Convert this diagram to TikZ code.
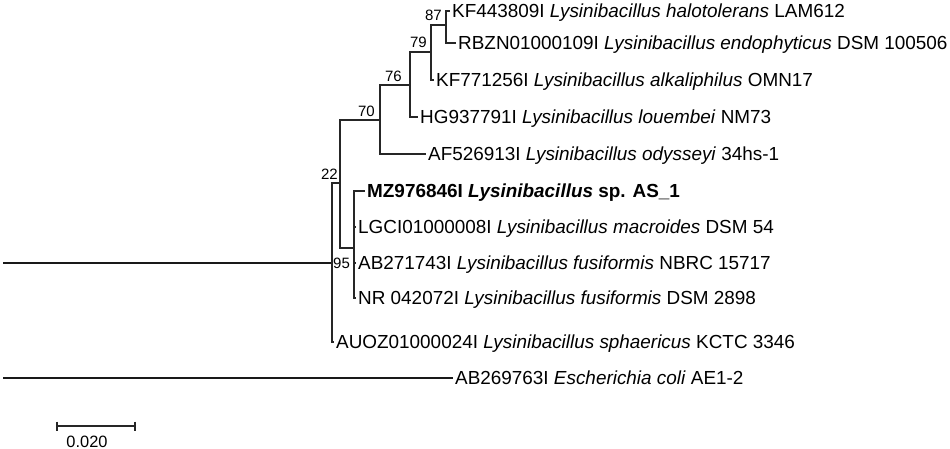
\documentclass[tikz,border=0pt]{standalone}
\usepackage{fontspec}
\setmainfont{Liberation Sans}
\begin{document}
\begin{tikzpicture}[x=1pt,y=-1pt,
  br/.style={draw=black!85,line width=1.2pt},
  rootbr/.style={draw=black!90,line width=1.7pt},
  leaf/.style={anchor=west,inner xsep=2pt,inner ysep=0pt,text height=15pt,text depth=1.4pt,
    font=\fontsize{18.9}{22}\selectfont},
  boot/.style={inner sep=0pt,font=\fontsize{15}{18}\selectfont}]
\useasboundingbox (0,0) rectangle (950,449);
% internal nodes
\coordinate (rin) at (3,263);
\coordinate (rout) at (3,378);
\coordinate (A) at (332,263);
\coordinate (B) at (340,183);
\coordinate (C) at (380,120);
\coordinate (E) at (410,85);
\coordinate (F) at (431,52);
\coordinate (G) at (446,25);
\coordinate (D) at (354,248);
% leaves
\node[leaf] (l1) at (450,11) {KF443809I \textit{Lysinibacillus halotolerans} LAM612};
\node[leaf] (l2) at (456,43) {RBZN01000109I \textit{Lysinibacillus endophyticus} DSM 100506};
\node[leaf] (l3) at (434,80) {KF771256I \textit{Lysinibacillus alkaliphilus} OMN17};
\node[leaf] (l4) at (418,117) {HG937791I \textit{Lysinibacillus louembei} NM73};
\node[leaf] (l5) at (426,154) {AF526913I \textit{Lysinibacillus odysseyi} 34hs-1};
\node[leaf] (l6) at (365,191) {\textbf{MZ976846I \textit{Lysinibacillus} sp. AS\_1}};
\node[leaf] (l7) at (356,227) {LGCI01000008I \textit{Lysinibacillus macroides} DSM 54};
\node[leaf] (l8) at (356,263) {AB271743I \textit{Lysinibacillus fusiformis} NBRC 15717};
\node[leaf] (l9) at (356,298) {NR 042072I \textit{Lysinibacillus fusiformis} DSM 2898};
\node[leaf] (l10) at (334,342) {AUOZ01000024I \textit{Lysinibacillus sphaericus} KCTC 3346};
\node[leaf] (l11) at (453,378) {AB269763I \textit{Escherichia coli} AE1-2};
% branches
\draw[rootbr] (rin) -- (A);
\draw[rootbr] (rout) -- (l11.west);
\draw[br] (A) |- (B);
\draw[br] (A) |- (l10.west);
\draw[br] (B) |- (C);
\draw[br] (B) |- (D);
\draw[br] (C) |- (E);
\draw[br] (C) |- (l5.west);
\draw[br] (E) |- (F);
\draw[br] (E) |- (l4.west);
\draw[br] (F) |- (G);
\draw[br] (F) |- (l3.west);
\draw[br] (G) |- (l1.west);
\draw[br] (G) |- (l2.west);
\draw[br] (D) |- (l6.west);
\draw[br] (D) |- (l7.west);
\draw[br] (D) |- (l8.west);
\draw[br] (D) |- (l9.west);
% bootstrap values
\node[boot,anchor=base east] (b87) at (442,21) {87};
\node[boot,anchor=base east] (b79) at (427,48) {79};
\node[boot,anchor=base east] (b76) at (402,82) {76};
\node[boot,anchor=base east] (b70) at (375,117) {70};
\node[boot,anchor=base east] (b22) at (338,180) {22};
\node[boot,anchor=base west] (b95) at (333,268) {95};
% scale bar
\coordinate (s1) at (57,426);
\coordinate (s2) at (135,426);
\draw[br] (s1) -- (s2);
\draw[br] ([yshift=4.5pt]s1) -- ([yshift=-4.5pt]s1);
\draw[br] ([yshift=4.5pt]s2) -- ([yshift=-4.5pt]s2);
\node[anchor=base,inner sep=0pt,font=\fontsize{16.4}{19}\selectfont] (sl) at (87,447) {0.020};
\end{tikzpicture}
\end{document}
